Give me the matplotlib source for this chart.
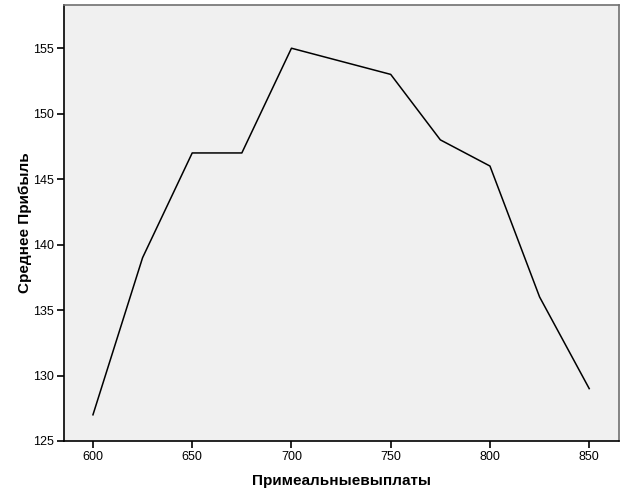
import matplotlib
matplotlib.use('Agg')
import matplotlib.pyplot as plt

# values
payouts = [600, 625, 650, 675, 700, 750, 775, 800, 825, 850]
avgProfit = [127, 139, 147, 147, 155, 153, 148, 146, 136, 129]
xTicks = [600, 650, 700, 750, 800, 850]
yTicks = [125, 130, 135, 140, 145, 150, 155]

plt.rcParams['font.family'] = ['Liberation Sans', 'DejaVu Sans']

fig = plt.figure(figsize=(6.26, 5.01), dpi=100)
ax = fig.add_axes([0.1022, 0.1198, 0.8866, 0.8702])
ax.set_facecolor('#f0f0f0')

ax.plot(payouts, avgProfit, color='black', linewidth=1.1)

ax.set_xlim(585.4, 865)
ax.set_ylim(125, 158.3)
ax.set_xticks(xTicks)
ax.set_yticks(yTicks)
ax.tick_params(axis='both', direction='out', length=5, width=1.2, labelsize=9, colors='black', pad=2)

for side in ['left', 'bottom']:
    ax.spines[side].set_color('black')
    ax.spines[side].set_linewidth(1.2)
for side in ['top', 'right']:
    ax.spines[side].set_color('#707070')
    ax.spines[side].set_linewidth(1.2)

ax.set_xlabel('Примеальныевыплаты', fontsize=11, fontweight='bold', labelpad=8)
ax.set_ylabel('Среднее Прибыль', fontsize=11, fontweight='bold', labelpad=1)

fig.savefig('out.png', dpi=100)
